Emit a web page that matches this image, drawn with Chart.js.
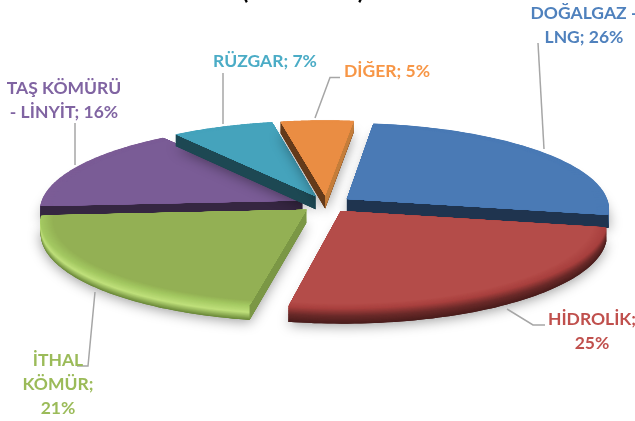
<!DOCTYPE html>
<html>
<head>
<meta charset="utf-8">
<style>
html, body { margin: 0; padding: 0; background: #fff; overflow: hidden; }
#wrap { position: relative; width: 635px; height: 421px; }
</style>
<script src="https://cdn.jsdelivr.net/npm/chart.js@4/dist/chart.umd.min.js"></script>
</head>
<body>
<div id="wrap"><canvas id="chartCanvas" width="635" height="421"></canvas></div>
<script>
const categories = ["DOĞALGAZ - LNG", "HİDROLİK", "İTHAL KÖMÜR", "TAŞ KÖMÜRÜ - LİNYİT", "RÜZGAR", "DİĞER"];
const values = [26, 25, 21, 16, 7, 5];

// label colours and top face colours
const labelColors = ["#4f81bd", "#c0504d", "#9bbb59", "#8064a2", "#4bacc6", "#f79646"];
const faceColors = ["#4a7ab5", "#b44c49", "#93b054", "#7a5c96", "#45a3bc", "#ea8d43"];
// rim gradient from top to bottom of the slab
const rimStops = [
  ["#4a7ab5", "#3a6596", "#1f344f"],
  ["#a8403e", "#6a2a29", "#4a1d1c"],
  ["#a3c861", "#bfe07b", "#6c8a3a"],
  ["#7c5c96", "#4d3a63", "#2f2540"],
  ["#45a3bc", "#2f7485", "#1d4853"],
  ["#ea8d43", "#b0692f", "#643a1a"]
];
// colour of the cut faces: [start edge, end edge]
const wallColors = [
  ["#1f344f", "#1f344f"],
  ["#a8403e", "#a8403e"],
  ["#7b9745", "#7b9745"],
  ["#352641", "#352641"],
  ["#1d4853", "#1d4853"],
  ["#643a1a", "#c47d3a"]
];
const drawOrder = [3, 4, 5, 0, 1, 2];

// text placement: centre x, first line centre y, wrap width
const labelPlace = [
  [584, 13, 118], [592, 319, 90], [58, 360, 70],
  [64, 88, 124], [265, 61, 200], [387, 71, 200]
];
const labelLineHeight = 24;
const leaderLines = [
  [[538, 43], [544, 149]],
  [[507, 309], [533, 325], [545, 325]],
  [[95, 292], [88, 366], [77, 366]],
  [[75, 123], [75, 165]],
  [[223, 73], [223, 124]],
  [[340, 77.5], [330, 77.5], [315, 118]]
];
// the title is cut off by the top of the picture, only the brackets show
const titleBrackets = [["(", 245], [")", 361]];

const SQUASH = 0.326;   // tilt of the pie plane
const PERSP = 0.11;     // how much the near edge grows
const DEPTH = 13;       // slab thickness
const BEVEL = 12;       // soft band on the inside of the rim
const LABEL_FONT = "bold 17.5px Lato, Carlito, sans-serif";

function project(arc, angle, radius, offset) {
  // angle as chart.js gives it, 0 = 3 o'clock, clockwise
  const mid = (arc.startAngle + arc.endAngle) / 2;
  const u = Math.cos(angle) * radius + Math.cos(mid) * offset;
  const v = Math.sin(angle) * radius + Math.sin(mid) * offset;
  const s = 1 / (1 - PERSP * v / arc.outerRadius);
  return { x: arc.x + u * s, y: arc.y + SQUASH * v * s, s };
}

function outline(arc, offset, inset) {
  const pts = [project(arc, 0, 0, offset)];
  const steps = 70;
  for (let i = 0; i <= steps; i++) {
    const a = arc.startAngle + (arc.endAngle - arc.startAngle) * i / steps;
    pts.push(project(arc, a, arc.outerRadius - inset, offset));
  }
  return pts;
}

function fillShape(ctx, pts, dy) {
  ctx.beginPath();
  pts.forEach((p, i) => {
    const y = p.y + dy * p.s;
    if (i === 0) ctx.moveTo(p.x, y); else ctx.lineTo(p.x, y);
  });
  ctx.closePath();
  ctx.fill();
}

function mixColor(a, b, t) {
  const pa = parseInt(a.slice(1), 16), pb = parseInt(b.slice(1), 16);
  const ch = sh => Math.round(((pa >> sh) & 255) * (1 - t) + ((pb >> sh) & 255) * t);
  return `rgb(${ch(16)},${ch(8)},${ch(0)})`;
}

function rimColor(stops, t) {
  if (t < 0.5) return mixColor(stops[0], stops[1], t * 2);
  return mixColor(stops[1], stops[2], (t - 0.5) * 2);
}

function drawWall(ctx, a, b, color) {
  ctx.fillStyle = color;
  ctx.beginPath();
  ctx.moveTo(a.x, a.y);
  ctx.lineTo(b.x, b.y);
  ctx.lineTo(b.x, b.y + DEPTH * b.s);
  ctx.lineTo(a.x, a.y + DEPTH * a.s);
  ctx.closePath();
  ctx.fill();
}

function drawSlice(ctx, arc, i) {
  const offset = arc.options.offset;
  const pts = outline(arc, offset, 0);

  // soft shadow under the slab
  ctx.save();
  ctx.shadowColor = "rgba(0,0,0,0.4)";
  ctx.shadowBlur = 13;
  ctx.shadowOffsetY = 2;
  ctx.fillStyle = rimStops[i][2];
  fillShape(ctx, pts, DEPTH);
  ctx.restore();

  // rim, stacked from the bottom up
  for (let d = DEPTH; d > 0; d -= 0.5) {
    ctx.fillStyle = rimColor(rimStops[i], d / DEPTH);
    fillShape(ctx, pts, d);
  }

  // cut faces, only the ones turned to the viewer
  const apex = pts[0], first = pts[1], last = pts[pts.length - 1];
  if (first.x < apex.x) drawWall(ctx, apex, first, wallColors[i][0]);
  if (apex.x < last.x) drawWall(ctx, last, apex, wallColors[i][1]);

  // top face, fading in from the rim colour
  for (let b = 0; b <= BEVEL; b += 1) {
    ctx.fillStyle = mixColor(rimStops[i][0], faceColors[i], b / BEVEL);
    fillShape(ctx, outline(arc, offset, b), 0);
  }
}

function wrapLabel(ctx, text, width) {
  const rows = [];
  let row = "";
  text.split(" ").forEach(word => {
    const next = row ? row + " " + word : word;
    if (ctx.measureText(next).width > width && row) {
      rows.push(row);
      row = word;
    } else {
      row = next;
    }
  });
  rows.push(row);
  return rows;
}

const tiltedPie = {
  id: "tiltedPie",
  beforeDatasetDraw(chart) {
    const ctx = chart.ctx;
    const arcs = chart.getDatasetMeta(0).data;
    ctx.save();
    drawOrder.forEach(i => drawSlice(ctx, arcs[i], i));
    ctx.restore();
    return false; // the flat arcs are replaced by the tilted ones
  },
  afterDraw(chart) {
    const ctx = chart.ctx;
    ctx.save();

    // what is left of the title
    ctx.font = "bold 24px Lato, Carlito, sans-serif";
    ctx.fillStyle = "#000";
    ctx.textAlign = "center";
    ctx.textBaseline = "alphabetic";
    titleBrackets.forEach(b => ctx.fillText(b[0], b[1], -1));

    // leader lines
    ctx.strokeStyle = "#a6a6a6";
    ctx.lineWidth = 1.5;
    leaderLines.forEach(line => {
      ctx.beginPath();
      line.forEach((p, i) => i === 0 ? ctx.moveTo(p[0], p[1]) : ctx.lineTo(p[0], p[1]));
      ctx.stroke();
    });

    // data labels
    ctx.font = LABEL_FONT;
    ctx.textBaseline = "middle";
    categories.forEach((name, i) => {
      const rows = wrapLabel(ctx, `${name}; ${values[i]}%`, labelPlace[i][2]);
      ctx.fillStyle = labelColors[i];
      rows.forEach((row, r) => {
        ctx.fillText(row, labelPlace[i][0], labelPlace[i][1] + r * labelLineHeight);
      });
    });
    ctx.restore();
  }
};

new Chart(document.getElementById("chartCanvas"), {
  type: "pie",
  data: {
    labels: categories,
    datasets: [{
      data: values,
      backgroundColor: faceColors,
      borderWidth: 0,
      offset: 26
    }]
  },
  options: {
    responsive: false,
    animation: false,
    rotation: 7,
    radius: 262,
    layout: { padding: { left: 17, bottom: 13 } },
    plugins: { legend: { display: false }, tooltip: { enabled: false } }
  },
  plugins: [tiltedPie]
});
</script>
</body>
</html>
